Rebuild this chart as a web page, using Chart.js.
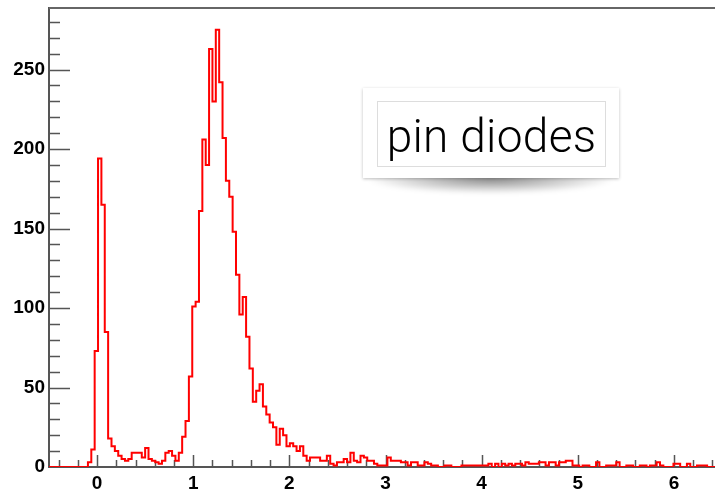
<!DOCTYPE html>
<html>
<head>
<meta charset="utf-8">
<script src="https://cdn.jsdelivr.net/npm/chart.js@4.4.1/dist/chart.umd.min.js"></script>
<style>
  html, body { margin: 0; padding: 0; background: #fff; overflow: hidden; }
  #wrap { position: relative; width: 730px; height: 492px; }
  #shadow {
    position: absolute; left: 366px; top: 164px; width: 250px; height: 30px;
    border-radius: 50%;
    background: radial-gradient(ellipse closest-side, rgba(0,0,0,0.45), rgba(0,0,0,0.2) 55%, rgba(0,0,0,0) 100%);
    filter: blur(2px);
    z-index: 2;
  }
  #label {
    position: absolute; left: 363px; top: 88px; width: 256px; height: 90px;
    background: #fff;
    box-shadow: 0 1px 3px rgba(0,0,0,0.25);
    z-index: 3;
  }
  #label span {
    position: absolute; left: 14px; top: 13px; width: 229px; height: 66px;
    border: 1px solid #ddd;
    font-family: Roboto, "Open Sans", sans-serif; font-weight: 300;
    font-size: 46px; line-height: 64px; padding-top: 2px; box-sizing: border-box;
    text-align: center; color: #000; letter-spacing: 0.3px;
  }
</style>
</head>
<body>
<div id="wrap">
  <canvas id="hist"></canvas>
  <div id="shadow"></div>
  <div id="label"><span>pin diodes</span></div>
</div>
<script>
// histogram: 200 bins, width 0.035, starting at -0.515
const binLow = -0.515;
const binWidth = 0.035;
const counts = [
    0, 0, 0, 0, 0, 0, 0, 0, 0, 0,
    0, 0, 3, 11, 73, 194, 165, 85, 18, 13,
    10, 7, 5, 4, 5, 9, 9, 9, 6, 12,
    5, 4, 3, 2, 4, 9, 10, 7, 4, 9,
    19, 29, 57, 101, 104, 161, 206, 190, 263, 230,
    275, 242, 207, 180, 170, 148, 121, 96, 107, 82,
    62, 41, 48, 52, 38, 33, 28, 25, 14, 24,
    20, 13, 15, 13, 10, 13, 7, 4, 6, 6,
    6, 4, 4, 7, 2, 1, 3, 3, 5, 3,
    9, 4, 3, 7, 6, 4, 4, 2, 1, 1,
    1, 6, 4, 4, 4, 3, 3, 1, 3, 3,
    1, 1, 3, 2, 1, 1, 0, 0, 1, 1,
    0, 0, 0, 1, 1, 1, 1, 1, 1, 1,
    1, 2, 0, 2, 0, 2, 1, 2, 1, 2,
    2, 1, 3, 2, 2, 2, 3, 3, 1, 3,
    3, 1, 3, 3, 4, 4, 1, 1, 0, 1,
    1, 0, 0, 3, 0, 0, 1, 1, 1, 3,
    0, 0, 1, 1, 0, 0, 1, 1, 0, 1,
    1, 3, 1, 0, 0, 0, 2, 2, 0, 0,
    2, 0, 0, 1, 1, 1, 0, 0, 0, 0
];
const xTickLabels = [0, 1, 2, 3, 4, 5, 6];
const yTickLabels = [0, 50, 100, 150, 200, 250];
const xRange = [-0.5, 6.5];
const yRange = [0, 288.75];

document.addEventListener('DOMContentLoaded', function() {
    const canvas = document.getElementById('hist');
    canvas.width = 730;
    canvas.height = 492;

    // step points: each bin value held from its left edge to the next one
    const points = counts.map((c, i) => ({ x: binLow + i * binWidth, y: c }));
    points.push({ x: binLow + counts.length * binWidth, y: counts[counts.length - 1] });

    const axisColor = '#555';

    // ROOT style ticks pointing into the frame, plus top/right frame line
    const innerTicks = {
        id: 'innerTicks',
        beforeDatasetsDraw(chart) {
            const { ctx, chartArea: a, scales: { x, y } } = chart;
            ctx.save();
            ctx.strokeStyle = axisColor;
            ctx.lineWidth = 1.5;
            ctx.beginPath();
            for (let i = -2; i <= 32; i++) {
                const v = i * 0.2;
                if (v < x.min || v > x.max) continue;
                const px = Math.round(x.getPixelForValue(v)) + 0.5;
                const len = i % 5 === 0 ? 12 : 7;
                ctx.moveTo(px, a.bottom);
                ctx.lineTo(px, a.bottom - len);
            }
            for (let v = 10; v <= y.max; v += 10) {
                const py = Math.round(y.getPixelForValue(v)) + 0.5;
                const len = v % 50 === 0 ? 21 : 11;
                ctx.moveTo(a.left, py);
                ctx.lineTo(a.left + len, py);
            }
            ctx.stroke();
            ctx.strokeStyle = '#666';
            ctx.lineWidth = 2;
            ctx.beginPath();
            ctx.moveTo(a.left, a.top);
            ctx.lineTo(a.right, a.top);
            ctx.lineTo(a.right, a.bottom);
            ctx.stroke();
            ctx.restore();
        }
    };

    const tickFont = { family: '"Liberation Sans", Arial, sans-serif', size: 19, weight: 'bold' };

    new Chart(canvas.getContext('2d'), {
        type: 'line',
        data: {
            datasets: [{
                data: points,
                borderColor: '#ff0000',
                borderWidth: 2,
                stepped: true,
                pointRadius: 0,
                pointHoverRadius: 0,
                fill: false
            }]
        },
        options: {
            responsive: false,
            animation: false,
            layout: { autoPadding: false, padding: { top: 8, right: 8, left: 0, bottom: 0 } },
            plugins: { legend: { display: false }, tooltip: { enabled: false } },
            scales: {
                x: {
                    type: 'linear',
                    min: xRange[0],
                    max: xRange[1],
                    afterFit: s => { s.height = 25; s.paddingLeft = 0; s.paddingRight = 0; },
                    afterBuildTicks: s => { s.ticks = xTickLabels.map(v => ({ value: v })); },
                    grid: { drawOnChartArea: false, drawTicks: false },
                    border: { color: axisColor, width: 2 },
                    ticks: { font: tickFont, color: '#000', padding: 5, maxRotation: 0, autoSkip: false }
                },
                y: {
                    min: yRange[0],
                    max: yRange[1],
                    afterFit: s => { s.width = 49; s.paddingTop = 0; s.paddingBottom = 0; },
                    afterBuildTicks: s => { s.ticks = yTickLabels.map(v => ({ value: v })); },
                    grid: { drawOnChartArea: false, drawTicks: false },
                    border: { color: axisColor, width: 2 },
                    ticks: { font: tickFont, color: '#000', padding: 4, autoSkip: false }
                }
            }
        },
        plugins: [innerTicks]
    });
});
</script>
</body>
</html>
